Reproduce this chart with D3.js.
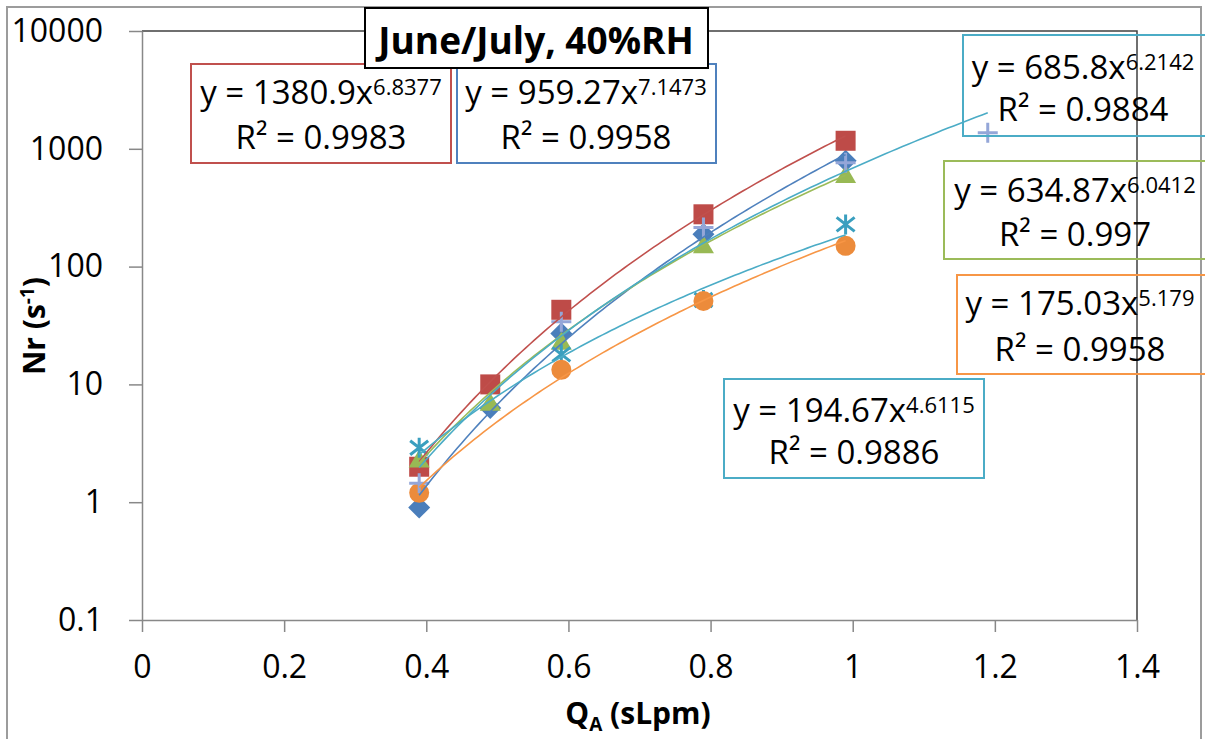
<!DOCTYPE html>
<html><head><meta charset="utf-8">
<script src="https://cdn.jsdelivr.net/npm/d3@7"></script>
<style>
html,body{margin:0;padding:0;background:#fff;}
svg{display:block;font-family:"Open Sans",sans-serif;}
</style></head><body>
<svg id="chart" width="1205" height="739"></svg>
<script>
// ---------- data ----------
const xTickValues = [0, 0.2, 0.4, 0.6, 0.8, 1, 1.2, 1.4];
const xTickLabels = ["0", "0.2", "0.4", "0.6", "0.8", "1", "1.2", "1.4"];
const yTickValues = [0.1, 1, 10, 100, 1000, 10000];
const yTickLabels = ["0.1", "1", "10", "100", "1000", "10000"];

const blueQA = [0.39, 0.49, 0.59, 0.79, 0.99];
const blueNr = [0.9, 6.3, 27, 188, 790];
const redQA = [0.39, 0.49, 0.59, 0.79, 0.99];
const redNr = [2.0, 10, 43, 278, 1170];
const greenQA = [0.39, 0.49, 0.59, 0.79, 0.99];
const greenNr = [2.3, 7.0, 23, 152, 600];
const tealQA = [0.39, 0.59, 0.79, 0.99];
const tealNr = [2.9, 18, 52, 228];
const orangeQA = [0.39, 0.59, 0.79, 0.99];
const orangeNr = [1.2, 13.3, 51, 150];
const plusQA = [0.39, 0.59, 0.79, 0.99, 1.19];
const plusNr = [1.45, 34, 215, 760, 1370];

// power-law trendline coefficients shown in the chart (y = a x^b)
const fitA = [959.27, 1380.9, 634.87, 194.67, 175.03, 685.8];
const fitB = [7.1473, 6.8377, 6.0412, 4.6115, 5.179, 6.2142];
const fitALabels = ["959.27", "1380.9", "634.87", "194.67", "175.03", "685.8"];
const fitBLabels = ["7.1473", "6.8377", "6.0412", "4.6115", "5.179", "6.2142"];
const fitR2Labels = ["0.9958", "0.9983", "0.997", "0.9886", "0.9958", "0.9884"];

const titleText = "June/July, 40%RH";

// ---------- layout / style ----------
const svg = d3.select("#chart");
const W = 1205, H = 739;
const L = 142, R = 1137, T = 31, B = 620;
const x = d3.scaleLinear().domain([0, 1.4]).range([L, R]);
const y = d3.scaleLog().domain([0.1, 10000]).range([B, T]);

const series = [
  {qa: blueQA, nr: blueNr, shape: "diamond", mc: "#4A7EBB", lc: "#4F81BD"},
  {qa: redQA, nr: redNr, shape: "square", mc: "#BE4B48", lc: "#C0504D"},
  {qa: greenQA, nr: greenNr, shape: "triangle", mc: "#98B954", lc: "#9BBB59"},
  {qa: tealQA, nr: tealNr, shape: "asterisk", mc: "#3A9FBF", lc: "#4BACC6"},
  {qa: orangeQA, nr: orangeNr, shape: "circle", mc: "#EC8B3B", lc: "#F79646"},
  {qa: plusQA, nr: plusNr, shape: "plus", mc: "#94A6D8", lc: "#4BACC6"}
];
// label box layout per series: [x0, y0, x1, y1, textCenterX, baseline1, baseline2]
const boxLayout = [
  [457, 64, 716, 163, 586, 104, 149],
  [191, 64, 451, 163, 321, 104, 149],
  [944, 161, 1208, 259, 1075, 202, 246],
  [724, 379, 984, 478, 854, 422, 464],
  [957, 275, 1208, 374, 1080, 315, 361],
  [963, 35, 1208, 136, 1083, 79, 121]
];

svg.append("rect").attr("width", W).attr("height", H).attr("fill", "#fff");
// outer chart border
svg.append("rect").attr("x", 7).attr("y", 7).attr("width", 1194).attr("height", 760)
  .attr("fill", "none").attr("stroke", "#9c9c9c").attr("stroke-width", 2);

// plot area border (top/right)
svg.append("path").attr("d", `M${L},${T}H${R}V${B}`)
  .attr("fill", "none").attr("stroke", "#404040").attr("stroke-width", 1.5);

// axes
const yAxis = d3.axisLeft(y).tickValues(yTickValues)
  .tickFormat((d, i) => yTickLabels[i]).tickSize(13).tickSizeOuter(0).tickPadding(26);
const xAxis = d3.axisBottom(x).tickValues(xTickValues)
  .tickFormat((d, i) => xTickLabels[i]).tickSize(12).tickSizeOuter(0).tickPadding(23);

const gy = svg.append("g").attr("transform", `translate(${L},0)`).call(yAxis);
const gx = svg.append("g").attr("transform", `translate(0,${B})`).call(xAxis);
[gx, gy].forEach(g => {
  g.select(".domain").attr("stroke", "#888").attr("stroke-width", 1.5);
  g.selectAll(".tick line").attr("stroke", "#888").attr("stroke-width", 1.5);
  g.selectAll(".tick text").attr("fill", "#000").style("font-family", '"Open Sans",sans-serif')
    .style("font-size", "32px");
});

// axis titles
const yt = svg.append("text").attr("transform", "translate(45,326) rotate(-90)")
  .attr("text-anchor", "middle").style("font-weight", "bold").style("font-size", "30px");
yt.append("tspan").text("Nr (s");
yt.append("tspan").text("-1").style("font-size", "19px").attr("dy", -11);
yt.append("tspan").text(")").attr("dy", 11);

const xt = svg.append("text").attr("x", 638).attr("y", 724)
  .attr("text-anchor", "middle").style("font-weight", "bold").style("font-size", "30px");
xt.append("tspan").text("Q");
xt.append("tspan").text("A").style("font-size", "19px").attr("dy", 7);
xt.append("tspan").text(" (sLpm)").attr("dy", -7);

// markers
const plot = svg.append("g");
function drawMarker(g, shape, c) {
  if (shape === "diamond") g.append("path").attr("d", "M0,-11L11,0L0,11L-11,0Z").attr("fill", c);
  else if (shape === "square") g.append("rect").attr("x", -10).attr("y", -10).attr("width", 20).attr("height", 20).attr("fill", c);
  else if (shape === "triangle") g.append("path").attr("d", "M0,-10L10.5,8L-10.5,8Z").attr("fill", c);
  else if (shape === "circle") g.append("circle").attr("r", 10).attr("fill", c);
  else if (shape === "asterisk") g.append("path").attr("d", "M0,-10V10M-9,-7L9,7M-9,7L9,-7")
    .attr("stroke", c).attr("stroke-width", 3).attr("fill", "none");
  else if (shape === "plus") g.append("path").attr("d", "M0,-10V10M-10,0H10")
    .attr("stroke", c).attr("stroke-width", 3).attr("fill", "none");
}
series.forEach(s => {
  s.qa.forEach((q, i) => {
    const g = plot.append("g").attr("transform", `translate(${x(q)},${y(s.nr[i])})`);
    drawMarker(g, s.shape, s.mc);
  });
});

// trendlines (power fits from the displayed equations)
const line = d3.line().x(d => x(d[0])).y(d => y(d[1])).curve(d3.curveLinear);
series.forEach((s, k) => {
  const x0 = d3.min(s.qa), x1 = d3.max(s.qa);
  const pts = d3.range(0, 101).map(j => {
    const q = x0 + (x1 - x0) * j / 100;
    return [q, fitA[k] * Math.pow(q, fitB[k])];
  });
  plot.append("path").datum(pts).attr("d", line).attr("fill", "none")
    .attr("stroke", s.lc).attr("stroke-width", 1.6);
});

// equation boxes
series.forEach((s, k) => {
  const b = boxLayout[k];
  svg.append("rect").attr("x", b[0]).attr("y", b[1]).attr("width", b[2] - b[0]).attr("height", b[3] - b[1])
    .attr("fill", "none").attr("stroke", s.lc).attr("stroke-width", 2);
  const t1 = svg.append("text").attr("x", b[4]).attr("y", b[5]).attr("text-anchor", "middle")
    .style("font-size", "33px").attr("fill", "#000");
  t1.append("tspan").text(`y = ${fitALabels[k]}x`);
  t1.append("tspan").text(fitBLabels[k]).style("font-size", "22px").attr("dy", -9);
  const t2 = svg.append("text").attr("x", b[4]).attr("y", b[6]).attr("text-anchor", "middle")
    .style("font-size", "33px").attr("fill", "#000");
  t2.append("tspan").text("R² = " + fitR2Labels[k]);
});

// title
svg.append("rect").attr("x", 365).attr("y", 8).attr("width", 343).attr("height", 60)
  .attr("fill", "#fff").attr("stroke", "#000").attr("stroke-width", 2);
svg.append("text").attr("x", 536).attr("y", 54).attr("text-anchor", "middle")
  .style("font-weight", "bold").style("font-size", "37px").text(titleText);
</script>
</body></html>
